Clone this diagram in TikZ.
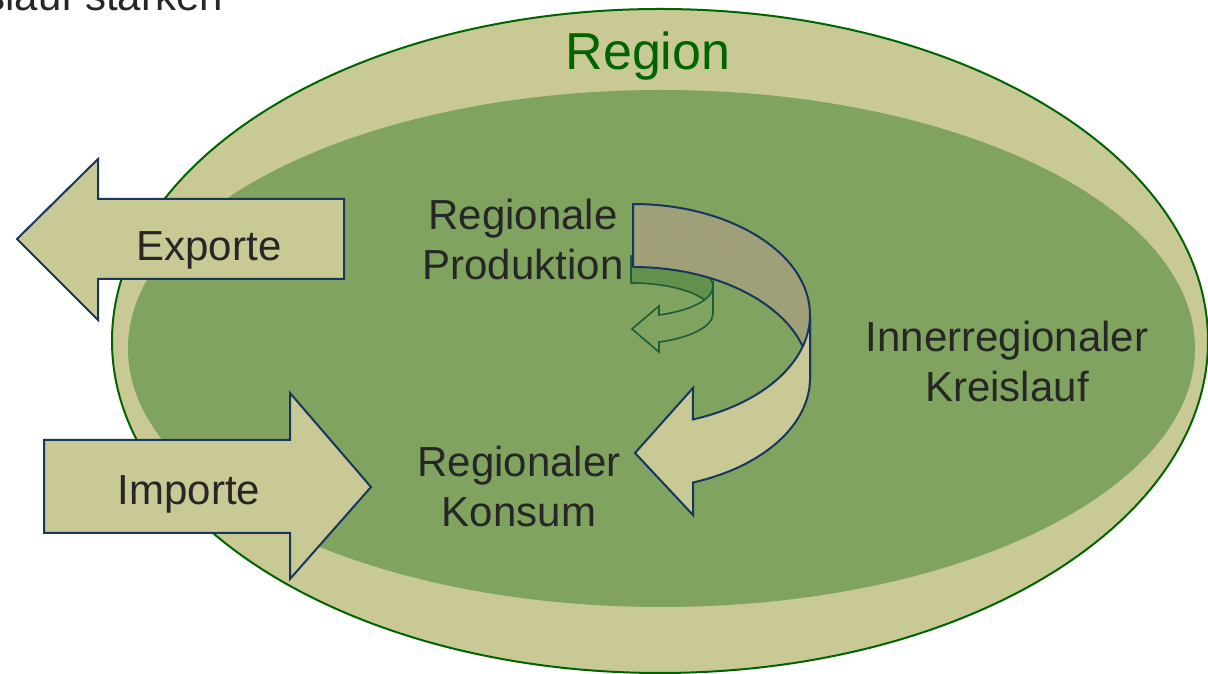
\documentclass[tikz,border=0pt]{standalone}
\usepackage{fontspec}
\setmainfont{Liberation Sans}
\definecolor{outerfill}{HTML}{C9C996}
\definecolor{innerfill}{HTML}{80A45F}
\definecolor{regiongreen}{HTML}{006400}
\definecolor{navy}{HTML}{17375E}
\definecolor{backband}{HTML}{A0A078}
\definecolor{smallback}{HTML}{63904B}
\definecolor{smallline}{HTML}{1F5C3A}
\definecolor{txt}{HTML}{262626}
\begin{document}
\begin{tikzpicture}[x=1pt,y=1pt,
  lbl/.style={inner sep=0pt, text=txt, font=\fontsize{42}{50}\selectfont, anchor=base},
  arrowbox/.style={fill=outerfill, draw=navy, line width=2pt, line join=miter},
  bigback/.style={fill=backband, draw=navy, line width=2pt, line join=round},
  bigfront/.style={fill=outerfill, draw=navy, line width=2pt, line join=miter},
  smlback/.style={fill=smallback, draw=smallline, line width=1.6pt, line join=round},
  smlfront/.style={fill=innerfill, draw=smallline, line width=1.6pt, line join=miter}]
\useasboundingbox (0,0) rectangle (1208,674);
\begin{scope}
\clip (0,0) rectangle (1208,674);
% region ellipses
\draw[fill=outerfill, draw=regiongreen, line width=2pt] (660,333) ellipse [x radius=548, y radius=332];
\fill[innerfill] (661.5,325.5) ellipse [x radius=533.5, y radius=258.5];
% header fragment
\node[lbl, anchor=base east] (header) at (223,663) {Kreislauf stärken};
\end{scope}
\node[inner sep=0pt, text=regiongreen, font=\fontsize{52}{60}\selectfont, anchor=base] (region) at (648,604) {Region};
% Exporte arrow
\draw[arrowbox] (17,435) -- (98,515) -- (98,475) -- (344,475) -- (344,395) -- (98,395) -- (98,354) -- cycle;
\node[lbl] (exporte) at (209,413) {Exporte};
% Importe arrow
\draw[arrowbox] (44,234) -- (290,234) -- (290,281) -- (371,187) -- (290,95) -- (290,141) -- (44,141) -- cycle;
\node[lbl] (importe) at (189,169) {Importe};
% labels
\node[lbl] (prod1) at (523,444) {Regionale};
\node[lbl] (prod2) at (523,394) {Produktion};
\node[lbl] (kons1) at (519,197) {Regionaler};
\node[lbl] (kons2) at (519,147) {Konsum};
\node[lbl] (kreis1) at (1007,322) {Innerregionaler};
\node[lbl] (kreis2) at (1007,272) {Kreislauf};
% small curved arrow
\draw[smlback] (631,418) arc[start angle=90, end angle=0, x radius=82, y radius=30.4]
   -- (713,360.6) arc[start angle=0, end angle=90, x radius=82, y radius=30.4] -- cycle;
\draw[smlfront] (713,387.6) arc[start angle=0, end angle=-70.03, x radius=82, y radius=30.4]
   -- (659,368) -- (632,345) -- (659,322) -- (659,332.0)
   arc[start angle=-70.03, end angle=0, x radius=82, y radius=30.4] -- cycle;
% big curved arrow
\draw[bigback] (633,470) arc[start angle=90, end angle=0, x radius=177, y radius=111]
   -- (810,296) arc[start angle=0, end angle=90, x radius=177, y radius=111] -- cycle;
\draw[bigfront] (810,359) arc[start angle=0, end angle=-70.2, x radius=177, y radius=111]
   -- (693,286) -- (635,221) -- (693,159) -- (693,191.5)
   arc[start angle=-70.2, end angle=0, x radius=177, y radius=111] -- cycle;
\end{tikzpicture}
\end{document}
